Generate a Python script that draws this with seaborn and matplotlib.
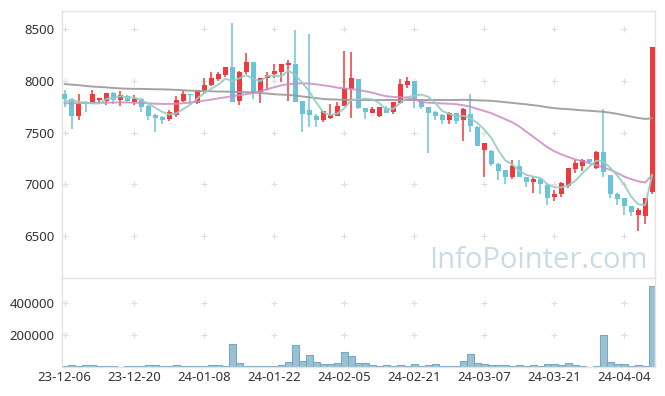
import numpy as np
import pandas as pd
import seaborn as sns
import matplotlib.pyplot as plt

dates = [
    '23-12-06', '23-12-07', '23-12-08', '23-12-11', '23-12-12', '23-12-13', '23-12-14', '23-12-15',
    '23-12-18', '23-12-19', '23-12-20', '23-12-21', '23-12-22', '23-12-26', '23-12-27', '23-12-28',
    '24-01-02', '24-01-03', '24-01-04', '24-01-05', '24-01-08', '24-01-09', '24-01-10', '24-01-11',
    '24-01-12', '24-01-15', '24-01-16', '24-01-17', '24-01-18', '24-01-19', '24-01-22', '24-01-23',
    '24-01-24', '24-01-25', '24-01-26', '24-01-29', '24-01-30', '24-01-31', '24-02-01', '24-02-02',
    '24-02-05', '24-02-06', '24-02-07', '24-02-08', '24-02-13', '24-02-14', '24-02-15', '24-02-16',
    '24-02-19', '24-02-20', '24-02-21', '24-02-22', '24-02-23', '24-02-26', '24-02-27', '24-02-28',
    '24-02-29', '24-03-04', '24-03-05', '24-03-06', '24-03-07', '24-03-08', '24-03-11', '24-03-12',
    '24-03-13', '24-03-14', '24-03-15', '24-03-18', '24-03-19', '24-03-20', '24-03-21', '24-03-22',
    '24-03-25', '24-03-26', '24-03-27', '24-03-28', '24-03-29', '24-04-01', '24-04-02', '24-04-03',
    '24-04-04', '24-04-05', '24-04-08', '24-04-09', '24-04-11']

opens = [7870, 7830, 7660, 7800, 7790, 7820, 7810, 7880, 7820, 7850,
         7800, 7830, 7760, 7670, 7650, 7630, 7670, 7810, 7870, 7790,
         7910, 7960, 8020, 8060, 8140, 7810, 8090, 8180, 7890, 8030,
         8070, 8090, 8150, 8160, 7810, 7720, 7660, 7620, 7640, 7660,
         7760, 7920, 8020, 7740, 7690, 7660, 7740, 7700, 7790, 7960,
         8000, 7800, 7750, 7700, 7670, 7620, 7690, 7620, 7680, 7550,
         7330, 7320, 7200, 7140, 7070, 7180, 7070, 7020, 7050, 6990,
         6880, 6910, 6980, 7150, 7180, 7250, 7160, 7310, 7090, 6910,
         6870, 6790, 6700, 6690, 6930]
highs = [7910, 7840, 7870, 7810, 7910, 7840, 7880, 7890, 7900, 7860,
         7860, 7840, 7770, 7680, 7660, 7720, 7850, 7900, 7870, 7910,
         8030, 8090, 8090, 8140, 8560, 8100, 8270, 8180, 8030, 8090,
         8160, 8160, 8200, 8490, 7810, 8450, 7680, 7710, 7780, 7800,
         8290, 8280, 8020, 7740, 7750, 7750, 7760, 7800, 8020, 8040,
         8000, 7830, 7750, 7710, 7680, 7700, 7690, 7740, 7870, 7560,
         7400, 7330, 7210, 7140, 7240, 7240, 7070, 7070, 7060, 7000,
         6950, 7020, 7160, 7240, 7250, 7250, 7320, 7730, 7090, 6920,
         6870, 6790, 6770, 6870, 8330]
lows = [7750, 7540, 7620, 7700, 7780, 7780, 7770, 7780, 7760, 7800,
        7770, 7700, 7620, 7510, 7580, 7610, 7650, 7800, 7780, 7780,
        7870, 7950, 8000, 8040, 7800, 7770, 8070, 7830, 7790, 7910,
        8030, 7990, 7810, 7800, 7510, 7550, 7550, 7600, 7630, 7660,
        7760, 7640, 7730, 7630, 7690, 7650, 7690, 7680, 7780, 7930,
        7740, 7730, 7300, 7620, 7580, 7580, 7580, 7420, 7510, 7370,
        7070, 7180, 7040, 7000, 7050, 7070, 6970, 6920, 6910, 6800,
        6840, 6880, 6960, 7110, 7130, 7210, 7150, 7070, 6870, 6800,
        6700, 6690, 6550, 6620, 6910]
closes = [7830, 7660, 7780, 7780, 7870, 7840, 7880, 7820, 7860, 7810,
          7830, 7750, 7660, 7640, 7620, 7700, 7820, 7870, 7860, 7910,
          7960, 8030, 8070, 8140, 7800, 8090, 8180, 7890, 8030, 8060,
          8100, 8160, 8170, 7800, 7680, 7670, 7620, 7710, 7670, 7760,
          7930, 8030, 7740, 7700, 7730, 7750, 7690, 7800, 7970, 8000,
          7830, 7750, 7690, 7660, 7620, 7690, 7610, 7730, 7560, 7370,
          7400, 7200, 7130, 7070, 7180, 7070, 7020, 7050, 7000, 6870,
          6910, 7010, 7160, 7210, 7240, 7220, 7310, 7120, 6910, 6860,
          6790, 6730, 6750, 6870, 8330]
volumes = [4000, 10500, 4000, 8000, 8000, 4000, 4000, 4000, 500, 3000,
           3000, 3000, 8000, 8000, 3000, 3000, 8000, 3000, 3000, 3000,
           3000, 8000, 8000, 3000, 143000, 21000, 3000, 3000, 3000, 3000,
           3000, 8000, 27000, 135000, 34000, 72000, 27000, 15000, 15000, 21000,
           90000, 65000, 21000, 21000, 10500, 4000, 8000, 4000, 8000, 3000,
           15000, 3000, 8000, 15000, 3000, 3000, 3000, 34000, 78000, 21000,
           15000, 8000, 8000, 8000, 3000, 8000, 3000, 8000, 3000, 15000,
           15000, 10500, 21000, 10500, 3000, 500, 3000, 198000, 29000, 15000,
           15000, 3000, 8000, 3000, 509000]
ma5 = [7800, 7816, 7800, 7790, 7782, 7783, 7827, 7836, 7852, 7841,
       7840, 7813, 7781, 7739, 7700, 7675, 7688, 7730, 7773, 7832,
       7884, 7926, 7966, 8022, 7999, 8026, 8057, 8020, 7998, 8050,
       8051, 8045, 8101, 8056, 7981, 7897, 7789, 7697, 7670, 7685,
       7736, 7818, 7823, 7829, 7823, 7786, 7720, 7732, 7787, 7842,
       7858, 7868, 7847, 7786, 7709, 7682, 7656, 7663, 7642, 7592,
       7532, 7449, 7330, 7231, 7194, 7128, 7092, 7076, 7063, 7002,
       6971, 6970, 6991, 7033, 7107, 7169, 7229, 7222, 7161, 7084,
       6998, 6881, 6807, 6799, 7093]
ma20 = [7784, 7784, 7785, 7786, 7787, 7788, 7790, 7792, 7793, 7792,
        7790, 7788, 7784, 7780, 7778, 7778, 7780, 7785, 7792, 7800,
        7810, 7820, 7832, 7842, 7853, 7863, 7873, 7885, 7900, 7920,
        7940, 7958, 7970, 7975, 7977, 7975, 7968, 7958, 7948, 7935,
        7928, 7922, 7913, 7900, 7887, 7868, 7852, 7846, 7842, 7840,
        7820, 7798, 7790, 7786, 7783, 7780, 7775, 7765, 7752, 7730,
        7710, 7688, 7660, 7630, 7600, 7560, 7510, 7460, 7410, 7360,
        7320, 7290, 7265, 7240, 7225, 7205, 7185, 7165, 7140, 7110,
        7075, 7050, 7030, 7017, 7091]
ma60 = [7970, 7965, 7960, 7952, 7946, 7942, 7938, 7932, 7928, 7925,
        7924, 7923, 7922, 7920, 7919, 7917, 7914, 7910, 7906, 7904,
        7902, 7900, 7898, 7897, 7895, 7893, 7891, 7889, 7885, 7878,
        7872, 7868, 7865, 7858, 7850, 7842, 7834, 7826, 7822, 7820,
        7818, 7817, 7816, 7816, 7816, 7816, 7816, 7816, 7816, 7816,
        7816, 7816, 7816, 7816, 7816, 7816, 7816, 7818, 7816, 7813,
        7811, 7808, 7802, 7795, 7788, 7781, 7774, 7766, 7757, 7746,
        7737, 7731, 7727, 7722, 7716, 7712, 7707, 7702, 7693, 7682,
        7668, 7655, 7642, 7633, 7639]

price_ticks = [6500, 7000, 7500, 8000, 8500]
vol_ticks = [200000, 400000]

up_color = '#ef3a3d'
down_color = '#6cc3d8'

sns.set_style('white')
plt.rcParams['font.family'] = ['Noto Sans', 'DejaVu Sans']

df = pd.DataFrame({'date': dates, 'open': opens, 'high': highs, 'low': lows,
                   'close': closes, 'volume': volumes,
                   'ma5': ma5, 'ma20': ma20, 'ma60': ma60})
df['x'] = np.arange(len(df))
up = df['close'] >= df['open']
colors = np.where(up, up_color, down_color)

fig = plt.figure(figsize=(6.65, 3.96), dpi=100)
ax = fig.add_axes([0.0928, 0.298, 0.8922, 0.675])
axv = fig.add_axes([0.0928, 0.074, 0.8922, 0.224], sharex=ax)

# faint '+' marks where a grid would be
xt = df['x'].values[::10]
gx, gy = np.meshgrid(xt, price_ticks)
ax.scatter(gx.ravel(), gy.ravel(), marker='+', s=18, color='#dddddd', linewidths=0.8, zorder=0)
gx, gy = np.meshgrid(xt, vol_ticks)
axv.scatter(gx.ravel(), gy.ravel(), marker='+', s=18, color='#dddddd', linewidths=0.8, zorder=0)

# candles
ax.vlines(df['x'], df['low'], df['high'], colors=colors, linewidth=1.1, zorder=2)
body = (df['close'] - df['open']).abs().clip(lower=12)
ax.bar(df['x'], body, bottom=df[['open', 'close']].min(axis=1), width=0.72,
       color=colors, linewidth=0, zorder=3)

# moving averages
sns.lineplot(data=df, x='x', y='ma60', ax=ax, color='#999999', linewidth=1.4, alpha=0.9, zorder=4)
sns.lineplot(data=df, x='x', y='ma20', ax=ax, color='#cc8bc4', linewidth=1.4, alpha=0.85, zorder=4)
sns.lineplot(data=df, x='x', y='ma5', ax=ax, color='#93cfc1', linewidth=1.4, alpha=0.9, zorder=5)

ax.text(0.987, 0.036, 'InfoPointer.com', transform=ax.transAxes, ha='right', va='baseline',
        fontsize=21, color='#c8dbe7', family=['Open Sans', 'DejaVu Sans'], zorder=1)

# volume
axv.bar(df['x'], df['volume'], width=0.95, color='#99c0d3', edgecolor='#7aa8bf', linewidth=0.8)

ax.set_xlim(-0.4, 84.4)
ax.set_ylim(6094, 8680)
axv.set_ylim(0, 558000)

ax.set_yticks(price_ticks)
ax.set_yticklabels([str(v) for v in price_ticks])
axv.set_yticks(vol_ticks)
axv.set_yticklabels([str(v) for v in vol_ticks])
axv.set_xticks(xt)
axv.set_xticklabels(df['date'].values[::10])
ax.tick_params(axis='x', labelbottom=False, length=0)
ax.tick_params(axis='y', length=0, pad=5, labelsize=9.5, labelcolor='#333333')
axv.tick_params(axis='both', length=0, labelsize=9.5, labelcolor='#333333')
axv.tick_params(axis='y', pad=5)
axv.tick_params(axis='x', pad=3)

for a in (ax, axv):
    a.set_xlabel('')
    a.set_ylabel('')
    for s in a.spines.values():
        s.set_color('#e3e3e3')
        s.set_linewidth(1)

plt.savefig('out.png', dpi=100)
